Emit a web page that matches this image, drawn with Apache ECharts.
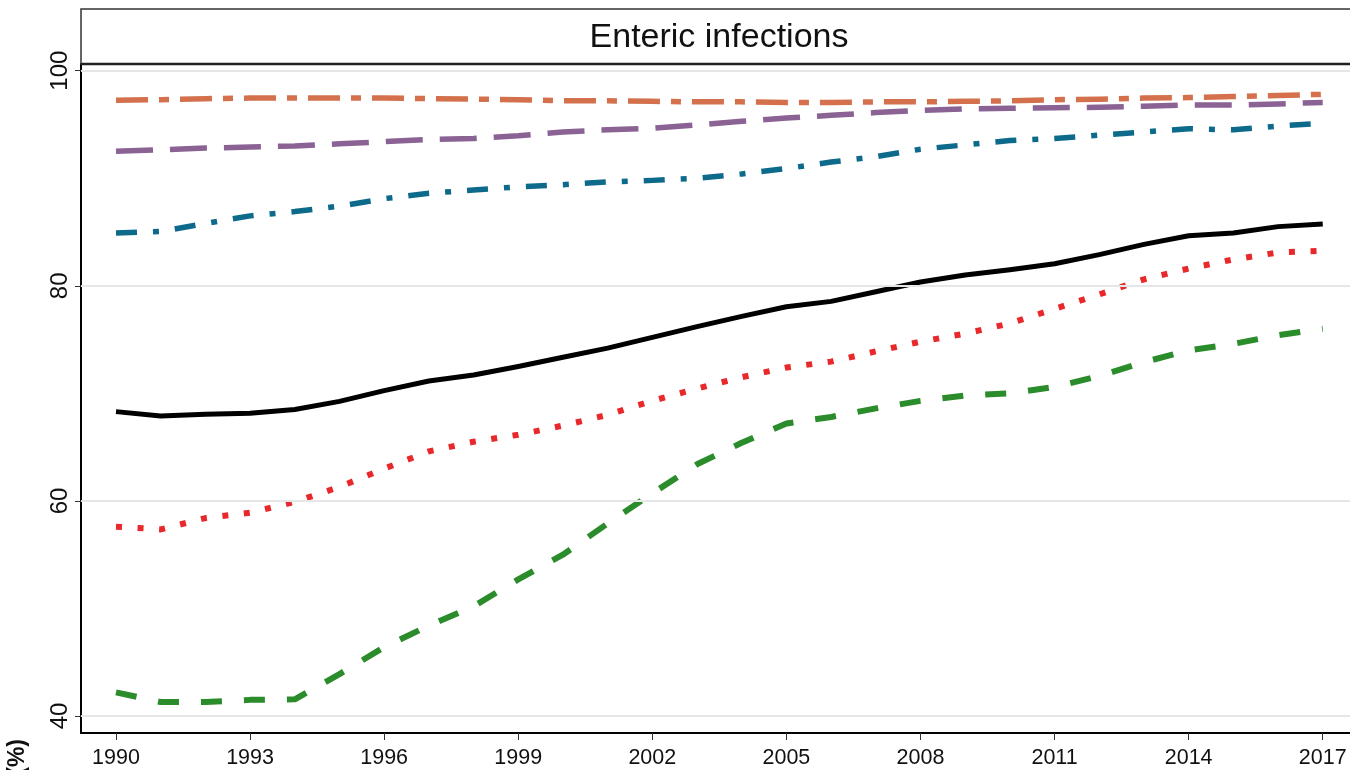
<!DOCTYPE html>
<html>
<head>
<meta charset="utf-8">
<script src="https://cdn.jsdelivr.net/npm/echarts@6/dist/echarts.min.js"></script>
<style>
html,body{margin:0;padding:0;background:#fff;}
#chart{width:1350px;height:770px;}
</style>
</head>
<body>
<div id="chart"></div>
<script>
const years = [1990,1991,1992,1993,1994,1995,1996,1997,1998,1999,2000,2001,2002,2003,2004,2005,2006,2007,2008,2009,2010,2011,2012,2013,2014,2015,2016,2017];
const xTickYears = [1990,1993,1996,1999,2002,2005,2008,2011,2014,2017];
const yTickValues = [40,60,80,100];

const orangeSeries = [97.25,97.3,97.4,97.45,97.45,97.45,97.45,97.4,97.35,97.3,97.2,97.2,97.15,97.1,97.1,97.05,97.05,97.1,97.1,97.15,97.2,97.3,97.35,97.45,97.5,97.6,97.7,97.8];
const purpleSeries = [92.5,92.65,92.8,92.9,93.0,93.2,93.4,93.6,93.7,93.95,94.3,94.5,94.65,94.95,95.3,95.6,95.85,96.1,96.3,96.45,96.5,96.55,96.6,96.7,96.8,96.8,96.9,97.05];
const tealSeries = [84.9,85.05,85.8,86.5,86.9,87.4,88.1,88.6,88.9,89.2,89.4,89.65,89.8,90.0,90.4,90.9,91.5,92.0,92.7,93.1,93.5,93.7,94.0,94.3,94.6,94.5,94.85,95.1];
const blackSeries = [68.3,67.9,68.05,68.15,68.5,69.25,70.25,71.15,71.7,72.5,73.35,74.2,75.2,76.2,77.15,78.05,78.55,79.45,80.35,81.0,81.5,82.05,82.9,83.85,84.65,84.9,85.5,85.75];
const redSeries = [57.6,57.35,58.4,58.9,59.9,61.3,63.0,64.6,65.5,66.15,67.0,68.0,69.3,70.45,71.5,72.4,72.95,73.9,74.8,75.55,76.5,77.85,79.2,80.6,81.6,82.45,83.1,83.25];
const greenSeries = [42.2,41.3,41.3,41.5,41.55,43.9,46.4,48.4,50.2,52.7,55.0,57.9,60.7,63.4,65.4,67.2,67.8,68.6,69.3,69.8,70.0,70.6,71.6,72.9,74.0,74.6,75.4,76.0];

const titleText = 'Enteric infections';
const yAxisName = 'Coverage (%)';

const pairs = arr => years.map((y, i) => [y, arr[i]]);
const FONT = 'Liberation Sans, Arial, sans-serif';

function lineSeries(name, data, color, dash, width, z) {
  return {
    name: name, type: 'line', data: pairs(data), showSymbol: false, symbol: 'none',
    z: z, animation: false,
    lineStyle: { color: color, width: width, type: dash, cap: 'butt', join: 'round' }
  };
}

const chart = echarts.init(document.getElementById('chart'), null, { renderer: 'canvas' });
chart.setOption({
  backgroundColor: '#ffffff',
  animation: false,
  grid: { left: 81, right: 0, top: 64, bottom: 37, containLabel: false },
  xAxis: {
    type: 'value', min: 1989.217, max: 2017.61,
    axisLine: { show: true, onZero: false, lineStyle: { color: '#000', width: 2 } },
    axisTick: { show: true, customValues: xTickYears, length: 7, lineStyle: { color: '#333', width: 1 } },
    axisLabel: { customValues: xTickYears, fontSize: 21.5, color: '#111', fontFamily: FONT, margin: 14, formatter: v => String(v) },
    splitLine: { show: false }
  },
  yAxis: {
    type: 'value', min: 38.42, max: 100.62,
    axisLine: { show: true, onZero: false, lineStyle: { color: '#000', width: 2 } },
    axisTick: { show: true, customValues: yTickValues, length: 6, lineStyle: { color: '#333', width: 1 } },
    axisLabel: { customValues: yTickValues, fontSize: 24, color: '#111', fontFamily: FONT, rotate: 90, margin: 9 },
    splitLine: { show: false }
  },
  graphic: [
    { type: 'rect', shape: { x: 81, y: 9, width: 1300, height: 55 }, style: { fill: 'none', stroke: '#333', lineWidth: 1.5 }, z: 10 },
    { type: 'line', shape: { x1: 81, y1: 64, x2: 1350, y2: 64 }, style: { stroke: '#222', lineWidth: 2.5 }, z: 10 },
    { type: 'text', x: 719, y: 38, style: { text: titleText, fontSize: 34, fontFamily: FONT, fill: '#111', textAlign: 'center', textVerticalAlign: 'middle' }, z: 10 },
    { type: 'text', x: 18, y: 739, rotation: Math.PI / 2, style: { text: yAxisName, fontSize: 23, fontWeight: 'bold', fontFamily: FONT, fill: '#111', textAlign: 'right', textVerticalAlign: 'middle' }, z: 10 }
  ],
  series: [
    {
      name: 'grid', type: 'line', data: pairs(orangeSeries), z: 1, silent: true, showSymbol: false,
      lineStyle: { opacity: 0 },
      markLine: {
        silent: true, symbol: 'none', animation: false, label: { show: false },
        lineStyle: { color: '#e6e6e6', width: 2, type: 'solid' },
        data: yTickValues.map(v => ({ yAxis: v }))
      }
    },
    lineSeries('orange', orangeSeries, '#D4714C', [32, 11, 10, 11], 5.5, 3),
    lineSeries('purple', purpleSeries, '#8A6294', [37, 17], 5.5, 3),
    lineSeries('teal', tealSeries, '#0D6A8B', [21, 16, 6, 16], 5.5, 3),
    lineSeries('red', redSeries, '#E8282B', [6, 15.6], 6, 3),
    lineSeries('green', greenSeries, '#2A8C2A', [21, 22], 6, 3),
    lineSeries('black', blackSeries, '#000000', 'solid', 5, 4)
  ]
});
</script>
</body>
</html>
